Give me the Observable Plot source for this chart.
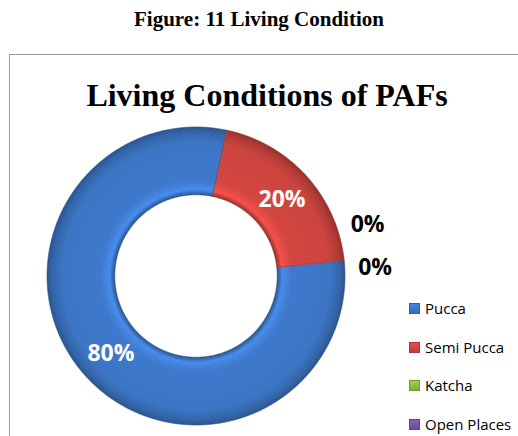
<!DOCTYPE html>
<html>
<head>
<meta charset="utf-8">
<script src="https://cdn.jsdelivr.net/npm/d3@7"></script>
<script src="https://cdn.jsdelivr.net/npm/@observablehq/plot@0.6"></script>
<style>
  html, body { margin: 0; padding: 0; background: #fff; }
  body { width: 518px; height: 436px; position: relative; overflow: hidden; }
  #caption { position: absolute; left: 0; width: 518px; top: 7px; text-align: center;
    font: bold 21px "Liberation Serif", "Times New Roman", serif; color: #000; }
  #box { position: absolute; left: 9px; top: 54px; width: 540px; height: 420px;
    border: 1.5px solid #9a9a9a; box-sizing: border-box; }
  #title { position: absolute; left: 9px; width: 516px; top: 77px; text-align: center;
    font: bold 32px "Liberation Serif", "Times New Roman", serif; color: #000; }
  #chart { position: absolute; left: 0; top: 0; }
  #legend { position: absolute; left: 409px; top: 298px; font: 15px "Open Sans", sans-serif; color: #000; }
  .item { height: 38.7px; display: flex; align-items: flex-start; }
  .sw { width: 11px; height: 11px; margin-top: 5px; margin-right: 5px; box-sizing: border-box; }
</style>
</head>
<body>
<div id="caption">Figure: 11 Living Condition</div>
<div id="box"></div>
<div id="chart"></div>
<div id="title">Living Conditions of PAFs</div>
<div id="legend"></div>
<script>
const categories = ["Pucca", "Semi Pucca", "Katcha", "Open Places"];
const values = [80, 20, 0, 0];
const labels = ["80%", "20%", "0%", "0%"];
const colors = ["#3d77c8", "#d0453f", "#8fbf3f", "#7a55a8"];

const firstSliceAngle = 84; // degrees, clockwise from north
const innerRatio = 0.545;

const pie = d3.pie().sort(null).value(d => d.value)
  .startAngle(firstSliceAngle * Math.PI / 180)
  .endAngle((firstSliceAngle + 360) * Math.PI / 180);
const slices = pie(categories.map((c, i) => ({category: c, value: values[i], label: labels[i], color: colors[i], i})));

// ring outline points for each slice (geometry from the pie angles)
const ringPts = [];
for (const s of slices) {
  if (s.endAngle - s.startAngle <= 0) continue;
  const n = Math.max(2, Math.ceil((s.endAngle - s.startAngle) / 0.01));
  for (let k = 0; k <= n; k++) {
    const a = s.startAngle + (s.endAngle - s.startAngle) * k / n;
    ringPts.push({category: s.data.category, i: s.data.i,
      x1: Math.sin(a), y1: Math.cos(a),
      x2: innerRatio * Math.sin(a), y2: innerRatio * Math.cos(a)});
  }
}

// labels
const labelPts = [];
let zeroK = 0;
for (const s of slices) {
  const mid = (s.startAngle + s.endAngle) / 2;
  if (s.data.value > 0) {
    const r = (1 + innerRatio) / 2;
    labelPts.push({text: s.data.label, x: r * Math.sin(mid), y: r * Math.cos(mid), fill: "white"});
  } else {
    const a = mid - (0.19 - zeroK * 0.245);
    const r = 1.2;
    labelPts.push({text: s.data.label, x: r * Math.sin(a), y: r * Math.cos(a), fill: "black"});
    zeroK++;
  }
}

const chart = Plot.plot({
  width: 518, height: 436,
  marginLeft: 47, marginRight: 173, marginTop: 127, marginBottom: 11,
  x: {domain: [-1, 1], axis: null},
  y: {domain: [-1, 1], axis: null},
  style: {background: "transparent", overflow: "visible"},
  marks: [
    Plot.area(ringPts, {x1: "x1", y1: "y1", x2: "x2", y2: "y2", z: "category",
      fill: d => `url(#grad${d.i})`, stroke: d => d3.color(colors[d.i]).darker(0.9).formatHex(), strokeWidth: 0.6, curve: "linear"}),
    Plot.text(labelPts, {x: "x", y: "y", text: "text", fill: "fill",
      fontSize: 23, fontWeight: "bold", fontFamily: "Open Sans, sans-serif"})
  ]
});

// gradients (3D bevel look), centred on the donut via the scales
const xs = chart.scale("x"), ys = chart.scale("y");
const cx = xs.apply(0), cy = ys.apply(0), R = xs.apply(1) - xs.apply(0);
const svg = d3.select(chart);
const defs = svg.insert("defs", ":first-child");
colors.forEach((c, i) => {
  const base = d3.color(c);
  const g = defs.append("radialGradient").attr("id", "grad" + i)
    .attr("gradientUnits", "userSpaceOnUse").attr("cx", cx).attr("cy", cy).attr("r", R);
  const stops = [
    [innerRatio, base.darker(1.0)],
    [innerRatio + 0.035, base.brighter(0.45)],
    [innerRatio + 0.1, base.brighter(0.05)],
    [0.9, base.darker(0.05)],
    [0.97, base.darker(0.5)],
    [1, base.darker(1.0)]
  ];
  for (const [o, col] of stops) g.append("stop").attr("offset", o).attr("stop-color", col.formatHex());
});
document.getElementById("chart").appendChild(chart);

// legend
const leg = d3.select("#legend");
categories.forEach((c, i) => {
  const it = leg.append("div").attr("class", "item");
  const base = d3.color(colors[i]);
  it.append("div").attr("class", "sw")
    .style("background", `linear-gradient(${base.brighter(0.3).formatHex()}, ${base.darker(0.3).formatHex()})`)
    .style("border", `1px solid ${base.darker(0.6).formatHex()}`);
  it.append("span").text(c);
});
</script>
</body>
</html>
